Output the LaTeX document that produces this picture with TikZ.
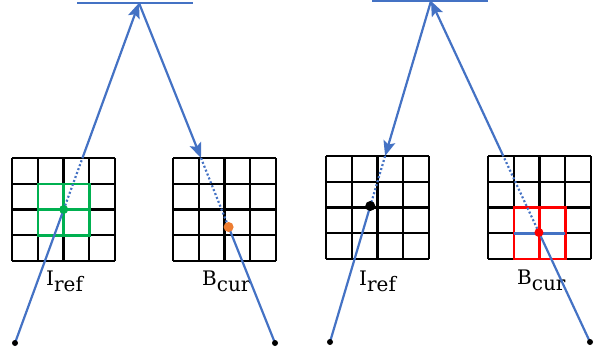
\documentclass[tikz,border=0pt]{standalone}
\usepackage{fontspec}
\setmainfont{DejaVu Serif}
\usetikzlibrary{calc, positioning}
\usetikzlibrary{arrows.meta}

\definecolor{rayblue}{RGB}{68,114,196}
\definecolor{boxgreen}{RGB}{0,176,80}
\definecolor{spotorange}{RGB}{237,125,49}

\begin{document}
\begin{tikzpicture}[x=1pt, y=-1pt,
  ray/.style={rayblue, line width=2.2pt},
  rayhidden/.style={rayblue, line width=2.2pt, dash pattern=on 2pt off 2.2pt},
  gridline/.style={black, line width=2.2pt},
  tip/.style={-{Stealth[length=15pt, width=12pt, inset=3pt]}},
  lbl/.style={font=\fontsize{20}{24}\selectfont, anchor=base west, inner sep=0pt}]
\def\cs{25.75}
\useasboundingbox (0,0) rectangle (599,354);

% the four 4x4 pixel grids
\foreach \gx/\gy in {12/158, 173/158, 326/156, 488/156} {
  \foreach \i in {0,...,4} {
    \draw[gridline] (\gx+\i*\cs, \gy) -- (\gx+\i*\cs, \gy+4*\cs);
    \draw[gridline] (\gx, \gy+\i*\cs) -- (\gx+4*\cs, \gy+\i*\cs);
  }
}

% highlighted 2x2 neighbourhoods
\draw[boxgreen, line width=2.5pt] (12+\cs,158+\cs) rectangle (12+3*\cs,158+3*\cs);
\draw[boxgreen, line width=2.5pt] (12+2*\cs,158+\cs) -- (12+2*\cs,158+3*\cs);
\draw[boxgreen, line width=2.5pt] (12+\cs,158+2*\cs) -- (12+3*\cs,158+2*\cs);
\draw[red, line width=2.5pt] (488+\cs,156+2*\cs) rectangle (488+3*\cs,156+4*\cs);
\draw[red, line width=2.5pt] (488+2*\cs,156+2*\cs) -- (488+2*\cs,156+4*\cs);
\draw[rayblue, line width=2.5pt] (488+\cs,156+3*\cs) -- (488+3*\cs,156+3*\cs);

% left scene
\coordinate (A1) at (139,3);
\coordinate (ML1) at (77,3);
\coordinate (MR1) at (193,3);
\coordinate (P1) at (15,343);
\coordinate (Q1) at (275,343);
\coordinate (D1) at ($(P1)!{133.5/340}!(A1)$);
\coordinate (T1) at ($(P1)!{185/340}!(A1)$);
\coordinate (T2) at ($(A1)!{155/340}!(Q1)$);
\coordinate (D2) at ($(A1)!{224/340}!(Q1)$);

% right scene
\coordinate (A2) at (431,1);
\coordinate (ML2) at (372,1);
\coordinate (MR2) at (488,1);
\coordinate (P2) at (330,342);
\coordinate (Q2) at (590,342);
\coordinate (T3) at ($(A2)!{155/341}!(P2)$);
\coordinate (D3) at ($(A2)!{205/341}!(P2)$);
\coordinate (T4) at ($(Q2)!{186/341}!(A2)$);
\coordinate (D4) at ($(Q2)!{109.5/341}!(A2)$);

\node[lbl] (iref1) at (46,285) {I\raisebox{-6pt}{ref}};
\node[lbl] (bcur1) at (202,285) {B\raisebox{-6pt}{cur}};
\node[lbl] (iref2) at (359,285) {I\raisebox{-6pt}{ref}};
\node[lbl] (bcur2) at (517,284) {B\raisebox{-6pt}{cur}};

\draw[ray] (ML1) -- (MR1);
\draw[ray] (P1) -- (D1);
\draw[rayhidden] (D1) -- (T1);
\draw[ray, tip] (T1) -- (A1);
\draw[ray, tip] (A1) -- (T2);
\draw[rayhidden] (T2) -- (D2);
\draw[ray] (D2) -- (Q1);

\draw[ray] (ML2) -- (MR2);
\draw[ray, tip] (A2) -- (T3);
\draw[rayhidden] (T3) -- (D3);
\draw[ray] (D3) -- (P2);
\draw[ray] (Q2) -- (D4);
\draw[rayhidden] (D4) -- (T4);
\draw[ray, tip] (T4) -- (A2);

\fill[boxgreen] (D1) circle (4.5);
\fill[spotorange] (D2) circle (5);
\fill[black] (D3) circle (5);
\fill[red] (D4) circle (4.5);
\foreach \p in {P1, Q1, P2, Q2}
  \fill[black] (\p) circle (3);
\end{tikzpicture}
\end{document}
